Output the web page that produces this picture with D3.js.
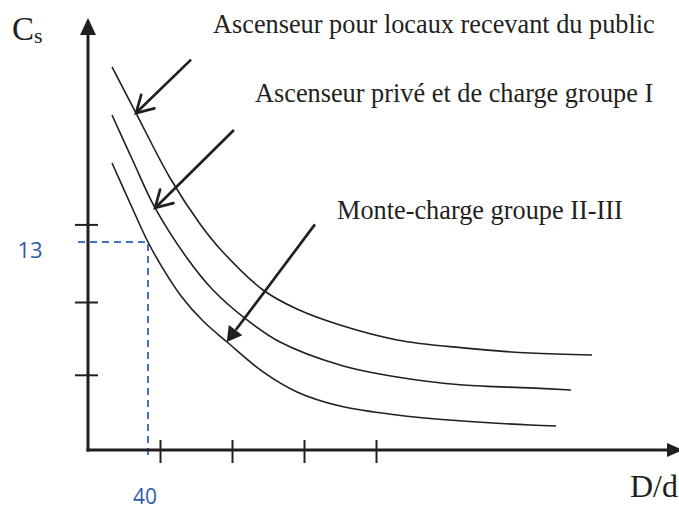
<!DOCTYPE html>
<html>
<head>
<meta charset="utf-8">
<script src="https://cdn.jsdelivr.net/npm/d3@7"></script>
<style>
  html, body { margin: 0; padding: 0; background: #fff; }
  svg { display: block; }
</style>
</head>
<body>
<svg id="chart" width="679" height="510"></svg>
<script>
// Safety coefficient Cs as a function of the ratio D/d (sheave / rope diameter)
const curveNames = [
  "Ascenseur pour locaux recevant du public",
  "Ascenseur privé et de charge groupe I",
  "Monte-charge groupe II-III"
];

const publicRatio  = [16, 32, 54.7, 74.7, 89.3, 116.7, 139.3, 168, 206, 250, 294.7, 336];
const publicCs     = [23.94, 21.06, 17.0, 14.13, 12.44, 10.0, 8.81, 7.81, 6.88, 6.38, 6.06, 5.94];

const priveRatio   = [16, 30, 44.7, 66, 83.3, 106, 128, 168, 206, 250, 294.7, 322];
const priveCs      = [20.94, 18.06, 15.13, 12.0, 10.0, 8.13, 6.75, 5.31, 4.56, 4.06, 3.88, 3.75];

const monteRatio   = [16, 28, 40, 51.3, 62, 76.7, 92.7, 116.7, 139.3, 168, 206, 250, 294.7, 312];
const monteCs      = [17.94, 15.44, 13.0, 11.13, 9.63, 8.06, 6.75, 4.88, 3.63, 2.75, 2.19, 1.81, 1.56, 1.5];

// unlabeled graduation marks on both axes
const xTicks = [48, 96, 144, 192];
const yTicks = [4.7, 9.25, 14.1];

// worked reading: D/d = 40 gives Cs = 13
const readRatio = 40;
const readCs = 13;

// arrow annotations: [from, to] in data units (ratio, Cs)
const arrowFrom = [[68.7, 24.4], [97.3, 20.0], [151.3, 14.1]];
const arrowTo   = [[32, 21.06], [44.7, 15.13], [92.5, 6.75]];

const svg = d3.select("#chart");
const ink = "#231f20";
const blue = "#4472c4";
const blueText = "#2f5cab";

const x = d3.scaleLinear().domain([0, 394]).range([88, 679]);
const y = d3.scaleLinear().domain([0, 27]).range([450, 18]);

// axis graduations (ticks cross the axis lines)
const gx = svg.append("g").attr("transform", `translate(0,${y(0)})`)
  .call(d3.axisBottom(x).tickValues(xTicks).tickFormat("").tickSize(13));
gx.select(".domain").remove();
gx.selectAll(".tick line").attr("y1", -10).attr("stroke", ink).attr("stroke-width", 2);

const gy = svg.append("g").attr("transform", `translate(${x(0)},0)`)
  .call(d3.axisLeft(y).tickValues(yTicks).tickFormat("").tickSize(13));
gy.select(".domain").remove();
gy.selectAll(".tick line").attr("x1", 10).attr("stroke", ink).attr("stroke-width", 2);

// dashed reading lines
svg.append("path")
  .attr("d", `M${x(0) - 10},${y(readCs)} H${x(readRatio)} V${y(0) + 7}`)
  .attr("fill", "none").attr("stroke", blue).attr("stroke-width", 2)
  .attr("stroke-dasharray", "7,5");

// main axis lines with arrowheads
svg.append("line").attr("x1", x(0)).attr("y1", y(0) + 1.5).attr("x2", x(0)).attr("y2", y(27) + 12)
  .attr("stroke", ink).attr("stroke-width", 3);
svg.append("path")
  .attr("d", `M${x(0)},${y(27)} L${x(0) + 8},${y(27) + 17} L${x(0) - 8},${y(27) + 17}Z`)
  .attr("fill", ink);
svg.append("line").attr("x1", x(0) - 1.5).attr("y1", y(0)).attr("x2", x(394) - 8).attr("y2", y(0))
  .attr("stroke", ink).attr("stroke-width", 3);
svg.append("path")
  .attr("d", `M${x(394) + 4},${y(0)} L${x(394) - 12},${y(0) - 7} L${x(394) - 12},${y(0) + 7}Z`)
  .attr("fill", ink);

// curves
const line = d3.line()
  .x(d => x(d[0])).y(d => y(d[1]))
  .curve(d3.curveCatmullRom.alpha(0.5));

const series = [
  d3.zip(publicRatio, publicCs),
  d3.zip(priveRatio, priveCs),
  d3.zip(monteRatio, monteCs)
];
svg.append("g").selectAll("path").data(series).join("path")
  .attr("d", line)
  .attr("fill", "none").attr("stroke", ink).attr("stroke-width", 1.6);

// annotation arrows
function arrow(from, to, filled) {
  const x0 = x(from[0]), y0 = y(from[1]);
  const x1 = x(to[0]), y1 = y(to[1]);
  const ang = Math.atan2(y0 - y1, x0 - x1);
  const spread = Math.PI / 6;
  const len = filled ? 17 : 19;
  const a = [x1 + len * Math.cos(ang - spread), y1 + len * Math.sin(ang - spread)];
  const b = [x1 + len * Math.cos(ang + spread), y1 + len * Math.sin(ang + spread)];
  if (filled) {
    const bx = x1 + (len - 2) * Math.cos(ang), by = y1 + (len - 2) * Math.sin(ang);
    svg.append("line").attr("x1", x0).attr("y1", y0).attr("x2", bx).attr("y2", by)
      .attr("stroke", ink).attr("stroke-width", 2.7);
    svg.append("path").attr("d", `M${x1},${y1} L${a[0]},${a[1]} L${b[0]},${b[1]}Z`)
      .attr("fill", ink);
  } else {
    svg.append("line").attr("x1", x0).attr("y1", y0).attr("x2", x1).attr("y2", y1)
      .attr("stroke", ink).attr("stroke-width", 2.7);
    svg.append("path").attr("d", `M${a[0]},${a[1]} L${x1},${y1} L${b[0]},${b[1]}`)
      .attr("fill", "none").attr("stroke", ink).attr("stroke-width", 2.7)
      .attr("stroke-linecap", "round").attr("stroke-linejoin", "miter");
  }
}
arrowFrom.forEach((f, i) => arrow(f, arrowTo[i], i === 2));

// labels
const serif = "'Liberation Serif', 'Times New Roman', serif";
const labelPos = [[213, 33], [255, 102], [337, 219]];
svg.append("g").selectAll("text").data(curveNames).join("text")
  .attr("x", (d, i) => labelPos[i][0]).attr("y", (d, i) => labelPos[i][1])
  .attr("font-family", serif).attr("font-size", 26.3).attr("fill", ink)
  .text(d => d);

const cs = svg.append("text").attr("x", 12).attr("y", 40)
  .attr("font-family", serif).attr("font-size", 33).attr("fill", ink);
cs.append("tspan").text("C");
cs.append("tspan").attr("font-size", 22).attr("dy", 3).text("s");

svg.append("text").attr("x", 678).attr("y", 497).attr("text-anchor", "end")
  .attr("font-family", serif).attr("font-size", 32).attr("fill", ink)
  .text("D/d");

const sans = "'Open Sans', 'Noto Sans', sans-serif";
svg.append("text").attr("x", 30).attr("y", y(readCs) + 16).attr("text-anchor", "middle")
  .attr("font-family", sans).attr("font-size", 22).attr("fill", blueText)
  .text(readCs);
svg.append("text").attr("x", x(readRatio) - 3).attr("y", 504).attr("text-anchor", "middle")
  .attr("font-family", sans).attr("font-size", 21).attr("fill", blueText)
  .text(readRatio);
</script>
</body>
</html>
